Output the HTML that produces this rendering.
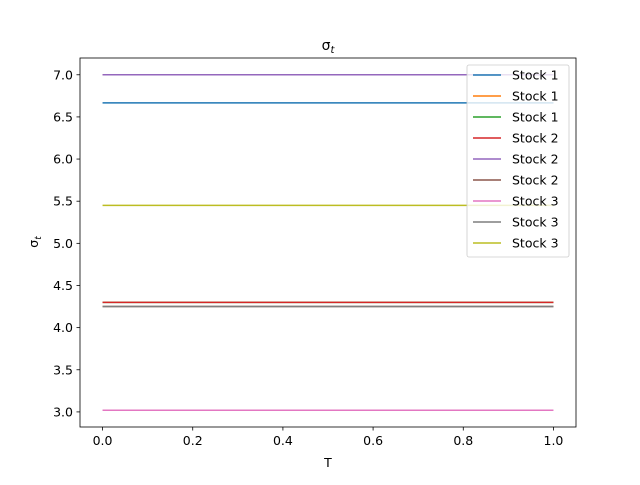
<!DOCTYPE html>
<html><head><meta charset="utf-8"><style>
body{margin:0;background:#fff;}
svg text{font-family:"DejaVu Sans","Liberation Sans",sans-serif;}
</style></head><body>
<svg id="chart" width="640" height="480" xmlns="http://www.w3.org/2000/svg">
<rect width="640" height="480" fill="#fff"/>
<text x="328" y="50" font-size="14" text-anchor="middle">σ<tspan font-size="10" dy="3" font-style="italic">t</tspan></text>
<g id="grid"></g>
<g id="lines"></g>
<rect x="80" y="58" width="496" height="369" fill="none" stroke="#000" stroke-width="0.8"/>
<g id="ticks"></g>
<text x="328" y="467" font-size="12.5" text-anchor="middle">T</text>
<text transform="translate(38,242) rotate(-90)" font-size="12.5" text-anchor="middle">σ<tspan font-size="9" dy="3" font-style="italic">t</tspan></text>
<g id="legend"></g>
</svg>
<script>
const seriesNames=["Stock 1","Stock 1","Stock 1","Stock 2","Stock 2","Stock 2","Stock 3","Stock 3","Stock 3"];
const seriesValues=[6.667,7.0,4.3,4.3,7.0,4.25,3.02,4.25,5.45];
const seriesColors=["#1f77b4","#ff7f0e","#2ca02c","#d62728","#9467bd","#8c564b","#e377c2","#7f7f7f","#bcbd22"];
const xRange=[0,1];
const xTicks=[0,0.2,0.4,0.6,0.8,1.0];
const yTicks=[3.0,3.5,4.0,4.5,5.0,5.5,6.0,6.5,7.0];
const NS="http://www.w3.org/2000/svg";
const X0=80,X1=576,Y0=427,Y1=58;
const xmin=-0.05,xmax=1.05,ymin=2.821,ymax=7.199;
function sx(v){return X0+(v-xmin)/(xmax-xmin)*(X1-X0);}
function sy(v){return Y0-(v-ymin)/(ymax-ymin)*(Y0-Y1);}
function mk(t,a,p){const e=document.createElementNS(NS,t);for(const k in a)e.setAttribute(k,a[k]);p.appendChild(e);return e;}
const L=document.getElementById('lines'),T=document.getElementById('ticks'),G=document.getElementById('legend');
seriesValues.forEach((v,i)=>{
 const l=mk('line',{x1:sx(xRange[0]),x2:sx(xRange[1]),y1:sy(v),y2:sy(v),stroke:seriesColors[i],'stroke-width':1.5},L);
 
 
});
xTicks.forEach(v=>{
 const x=sx(v);
 const t=mk('line',{x1:x,x2:x,y1:Y0,y2:Y0+3.5,stroke:'#000','stroke-width':0.8},T);
 
 
 const s=mk('text',{x:x,y:Y0+18,'font-size':12.5,'text-anchor':'middle'},T);
 s.textContent=v.toFixed(1);
 
 
});
yTicks.forEach(v=>{
 const y=sy(v);
 const t=mk('line',{x1:X0-3.5,x2:X0,y1:y,y2:y,stroke:'#000','stroke-width':0.8},T);
 
 
 const s=mk('text',{x:X0-7,y:y+4.5,'font-size':12.5,'text-anchor':'end'},T);
 s.textContent=v.toFixed(1);
 
 
});
const box=mk('rect',{x:467,y:65,width:102,height:192,rx:2,fill:'#fff','fill-opacity':0.8,stroke:'#ccc','stroke-width':0.8},G);


seriesNames.forEach((n,i)=>{
 const y=75+i*21;
 const l=mk('line',{x1:473,x2:501,y1:y,y2:y,stroke:seriesColors[i],'stroke-width':1.5},G);
 
 
 const s=mk('text',{x:512,y:y+4.5,'font-size':12.5},G);
 s.textContent=n;
 
 
});
</script>
</body></html>
